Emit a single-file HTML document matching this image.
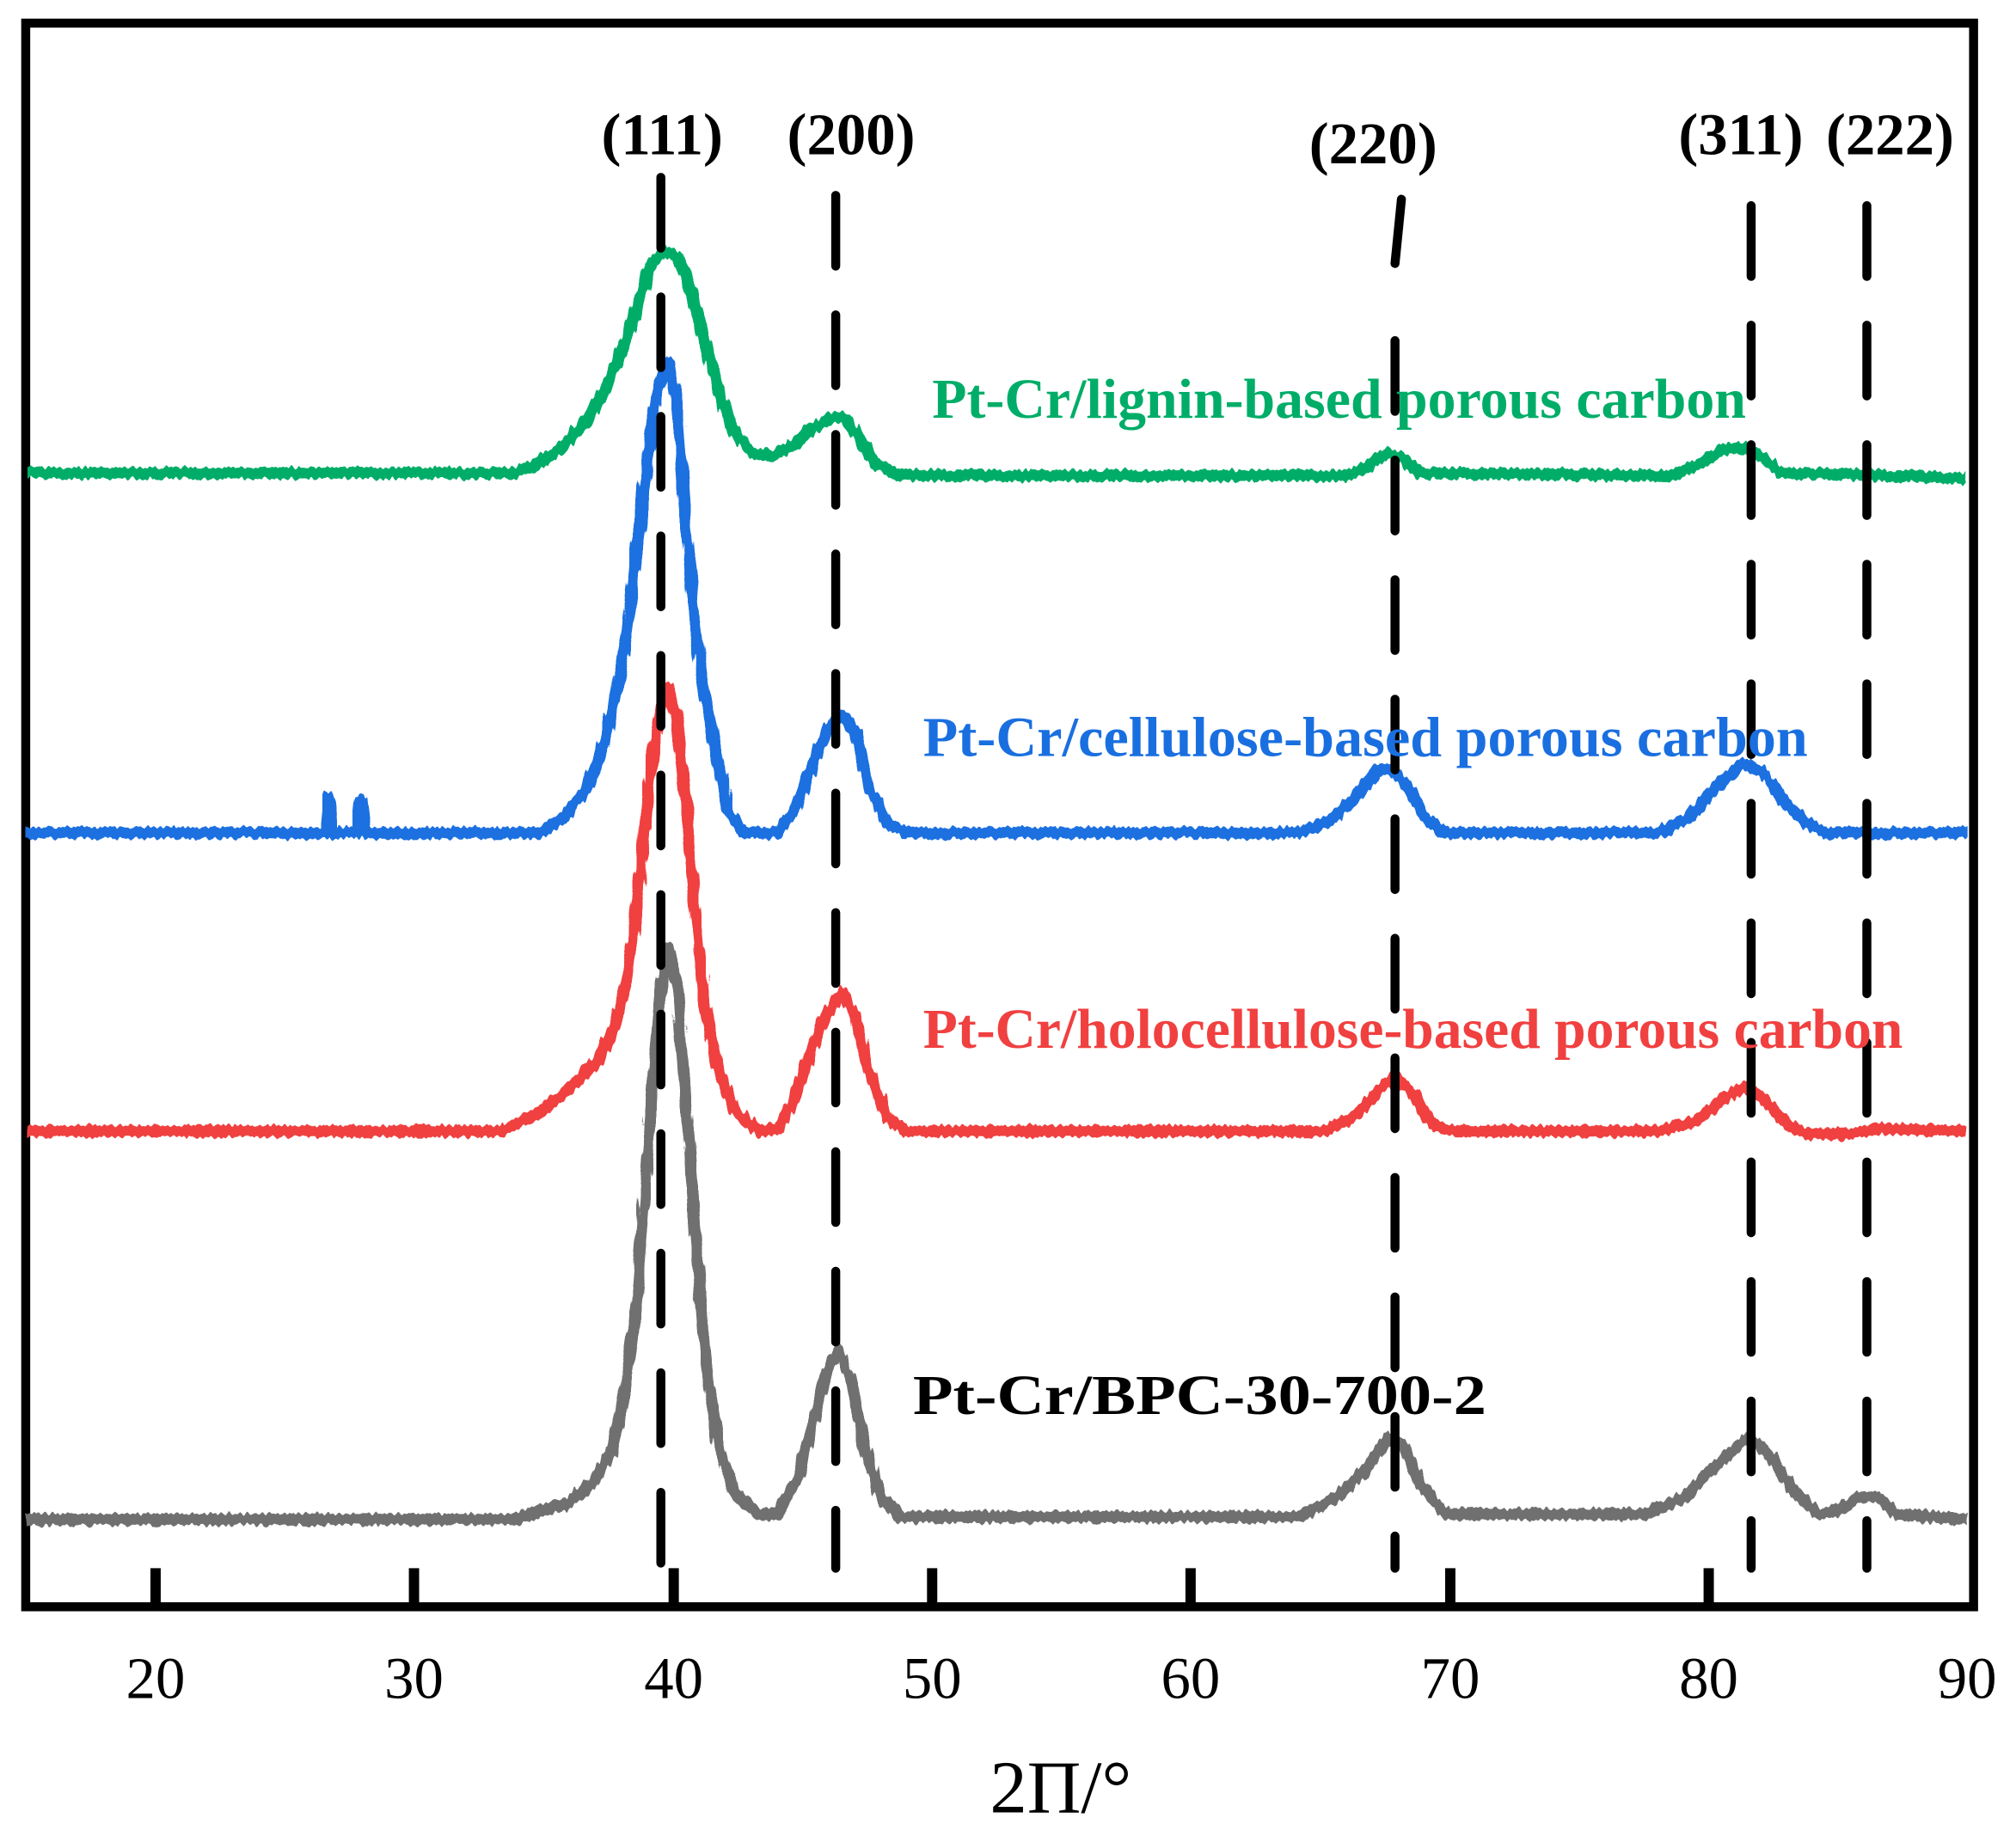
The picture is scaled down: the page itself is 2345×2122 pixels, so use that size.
<!DOCTYPE html>
<html><head><meta charset="utf-8"><style>html,body{margin:0;padding:0;background:#fff}svg{display:block}</style></head>
<body>
<svg width="2345" height="2122" viewBox="0 0 1568 1419" preserveAspectRatio="none" xmlns="http://www.w3.org/2000/svg" font-family="'Liberation Serif',serif">
<defs>
<filter id="j" x="-5%" y="-5%" width="110%" height="110%">
<feTurbulence type="fractalNoise" baseFrequency="0.35 0.05" numOctaves="1" seed="3"/>
<feDisplacementMap in="SourceGraphic" scale="7" xChannelSelector="R" yChannelSelector="G"/>
</filter>
</defs>
<rect x="20" y="18" width="1515" height="1232" fill="none" stroke="#000" stroke-width="7"/>
<g fill="none" stroke-width="9" stroke-linejoin="round" filter="url(#j)">
<polyline stroke="#707070" points="20,1182 400,1182 440,1170 460,1155 475,1130 485,1090 493,1030 500,950 507,850 514,770 520,737 527,770 534,860 541,960 549,1060 558,1120 570,1160 590,1178 605,1178 620,1150 632,1110 642,1070 652,1050 662,1075 672,1125 685,1165 700,1180 1010,1180 1040,1165 1065,1140 1080,1118 1092,1125 1105,1155 1125,1178 1280,1178 1310,1165 1335,1140 1360,1118 1375,1130 1395,1160 1415,1178 1430,1175 1445,1165 1460,1165 1475,1178 1530,1182"/>
<polyline stroke="#f04040" points="20,880 390,880 420,865 445,845 465,825 478,800 488,760 495,710 502,640 508,585 514,550 520,535 527,560 533,620 540,700 548,780 558,830 572,865 590,880 605,878 618,855 630,820 642,790 655,772 665,790 675,830 690,870 705,880 1030,880 1055,868 1072,848 1085,838 1098,850 1115,875 1130,880 1290,880 1320,872 1340,855 1358,845 1372,855 1390,875 1405,882 1440,882 1460,878 1530,880"/>
<polyline stroke="#1a6fe0" points="20,648 252,648 255,620 258,648 278,648 281,622 284,648 420,648 440,635 455,615 468,585 478,545 488,490 496,420 503,360 510,310 516,290 521,282 527,320 533,400 540,480 548,540 556,580 566,630 578,648 605,648 618,630 630,600 642,570 655,555 665,570 675,610 690,640 705,648 1010,648 1035,638 1055,620 1070,600 1082,598 1095,612 1110,638 1125,648 1290,648 1315,635 1335,612 1355,594 1370,600 1385,620 1405,640 1420,648 1530,648"/>
<polyline stroke="#00ad68" points="20,368 400,368 420,360 440,345 458,325 472,300 485,270 497,235 507,205 516,195 527,200 537,225 547,262 558,300 570,335 585,352 600,355 615,348 630,335 645,325 656,325 668,340 680,360 700,370 1050,370 1065,362 1078,352 1090,356 1105,368 1300,370 1320,362 1340,350 1355,348 1370,355 1385,368 1530,372"/>
</g>
<g stroke="#000" stroke-width="7" stroke-linecap="round" stroke-dasharray="55 38" fill="none">
<line x1="514" y1="138" x2="514" y2="1220"/>
<line x1="650" y1="152" x2="650" y2="1220"/>
<path d="M1090 155 L1085 205" stroke-dasharray="none"/>
<line x1="1085" y1="265" x2="1085" y2="1220"/>
<line x1="1362" y1="160" x2="1362" y2="1220"/>
<line x1="1452" y1="160" x2="1452" y2="1220"/>
</g>
<g font-weight="bold" font-size="46" text-anchor="middle">
<text x="515" y="120">(111)</text><text x="662" y="120">(200)</text><text x="1068" y="127">(220)</text><text x="1354" y="120">(311)</text><text x="1470" y="120">(222)</text>
</g>
<g stroke="#000" stroke-width="8">
<line x1="121" y1="1220" x2="121" y2="1250"/><line x1="322" y1="1220" x2="322" y2="1250"/><line x1="524" y1="1220" x2="524" y2="1250"/><line x1="725" y1="1220" x2="725" y2="1250"/><line x1="926" y1="1220" x2="926" y2="1250"/><line x1="1128" y1="1220" x2="1128" y2="1250"/><line x1="1329" y1="1220" x2="1329" y2="1250"/>
</g>
<g font-size="46" text-anchor="middle">
<text x="121" y="1321">20</text><text x="322" y="1321">30</text><text x="524" y="1321">40</text><text x="725" y="1321">50</text><text x="926" y="1321">60</text><text x="1128" y="1321">70</text><text x="1329" y="1321">80</text><text x="1530" y="1321">90</text>
</g>
<text x="825" y="1410" font-size="58" text-anchor="middle">2Π/°</text>
<g font-weight="bold">
<text x="725" y="325" fill="#00ad68" font-size="44" textLength="633" lengthAdjust="spacingAndGlyphs">Pt-Cr/lignin-based porous carbon</text>
<text x="718" y="588" fill="#1a6fe0" font-size="44" textLength="688" lengthAdjust="spacingAndGlyphs">Pt-Cr/cellulose-based porous carbon</text>
<text x="718" y="815" fill="#f04040" font-size="44" textLength="762" lengthAdjust="spacingAndGlyphs">Pt-Cr/holocellulose-based porous carbon</text>
<text x="710" y="1100" fill="#000" font-size="44" textLength="446" lengthAdjust="spacingAndGlyphs">Pt-Cr/BPC-30-700-2</text>
</g>
</svg>
</body></html>
